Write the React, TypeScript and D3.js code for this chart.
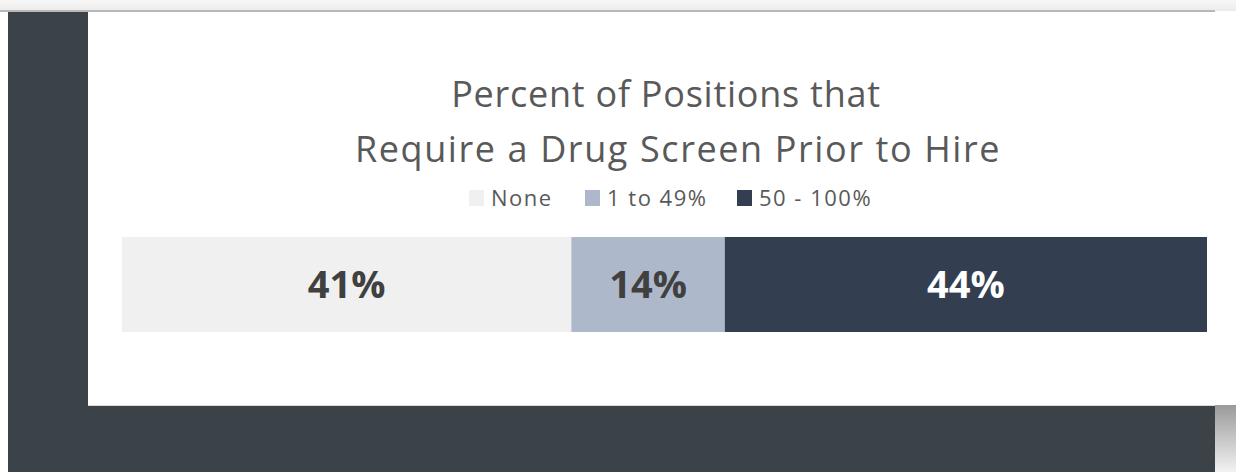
import { useEffect, useRef } from 'react';
import * as d3 from 'd3';

const categories = ['None', '1 to 49%', '50 - 100%'];
const values = [41, 14, 44];
const colors = ['#f0f0f0', '#adb9ca', '#333f50'];
const labelColors = ['#404040', '#404040', '#ffffff'];
const titleLines = ['Percent of Positions that', 'Require a Drug Screen Prior to Hire'];

const W = 1236;
const H = 472;

export default function App() {
  const svgRef = useRef<SVGSVGElement>(null);

  useEffect(() => {
    const svg = d3.select(svgRef.current);
    svg.selectAll('*').remove();

    const defs = svg.append('defs');
    const topGrad = defs.append('linearGradient').attr('id', 'topg').attr('x1', 0).attr('y1', 0).attr('x2', 0).attr('y2', 1);
    topGrad.append('stop').attr('offset', '0%').attr('stop-color', '#f7f7f7');
    topGrad.append('stop').attr('offset', '100%').attr('stop-color', '#ebebeb');
    const sideGrad = defs.append('linearGradient').attr('id', 'sideg').attr('x1', 0).attr('y1', 0).attr('x2', 0).attr('y2', 1);
    sideGrad.append('stop').attr('offset', '0%').attr('stop-color', '#9a9a9a');
    sideGrad.append('stop').attr('offset', '100%').attr('stop-color', '#f2f2f2');

    // page background
    svg.append('rect').attr('width', W).attr('height', H).attr('fill', '#ffffff');
    svg.append('rect').attr('x', 8).attr('y', 11).attr('width', 1207).attr('height', H - 11).attr('fill', '#3b4248');
    svg.append('rect').attr('x', 1215).attr('y', 405).attr('width', W - 1215).attr('height', H - 405).attr('fill', 'url(#sideg)');
    svg.append('rect').attr('width', W).attr('height', 11).attr('fill', 'url(#topg)');
    svg.append('rect').attr('x', 0).attr('y', 10).attr('width', 1215).attr('height', 2).attr('fill', '#b8b8b8');

    // card
    svg.append('rect').attr('x', 88).attr('y', 12).attr('width', 1127).attr('height', 393).attr('fill', '#ffffff');
    svg.append('line').attr('x1', 88).attr('x2', 1215).attr('y1', 405.5).attr('y2', 405.5).attr('stroke', '#d8d8d8');

    const font = "'Open Sans', sans-serif";

    // title, two lines
    const titleX = [666, 678];
    const titleY = [107, 162];
    const titleSpacing = [0.75, 1.6];
    titleLines.forEach((t, i) => {
      svg.append('text')
        .attr('x', titleX[i]).attr('y', titleY[i])
        .attr('text-anchor', 'middle')
        .attr('fill', '#595959')
        .style('font-family', font)
        .style('font-size', '36px')
        .style('letter-spacing', `${titleSpacing[i]}px`)
        .text(t);
    });

    // legend
    const legendX = [469, 585, 737];
    categories.forEach((c, i) => {
      svg.append('rect')
        .attr('x', legendX[i]).attr('y', 190)
        .attr('width', 15).attr('height', 16)
        .attr('fill', colors[i]);
      svg.append('text')
        .attr('x', legendX[i] + 22).attr('y', 206)
        .attr('fill', '#595959')
        .style('font-family', font)
        .style('font-size', '22px')
        .style('letter-spacing', '1.5px')
        .text(c);
    });

    // stacked bar
    const total = d3.sum(values);
    const x = d3.scaleLinear().domain([0, total]).range([122, 1207]);
    const starts = d3.cumsum([0, ...values]);
    const barTop = 237;
    const barH = 95;

    const segs = values.map((v, i) => ({ v, i, start: starts[i], end: starts[i] + v }));

    svg.selectAll('rect.seg')
      .data(segs)
      .join('rect')
      .attr('class', 'seg')
      .attr('x', d => x(d.start))
      .attr('y', barTop)
      .attr('width', d => x(d.end) - x(d.start))
      .attr('height', barH)
      .attr('fill', d => colors[d.i]);

    svg.selectAll('text.lbl')
      .data(segs)
      .join('text')
      .attr('class', 'lbl')
      .attr('x', d => (x(d.start) + x(d.end)) / 2)
      .attr('y', barTop + barH / 2)
      .attr('dy', '0.36em')
      .attr('text-anchor', 'middle')
      .attr('fill', d => labelColors[d.i])
      .style('font-family', font)
      .style('font-size', '38px')
      .style('font-weight', '700')
      .text(d => `${d.v}%`);
  }, []);

  return (
    <svg ref={svgRef} width={W} height={H} style={{ position: 'absolute', left: 0, top: 0 }} />
  );
}
